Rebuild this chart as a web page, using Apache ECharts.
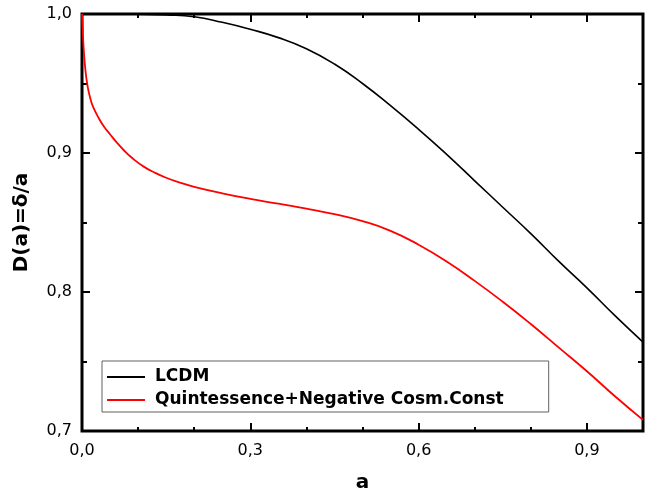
<!DOCTYPE html>
<html>
<head>
<meta charset="utf-8">
<script src="https://cdn.jsdelivr.net/npm/echarts@6/dist/echarts.min.js"></script>
<style>html,body{margin:0;padding:0;background:#fff}#c{width:651px;height:491px}</style>
</head>
<body>
<div id="c"></div>
<script>
// Data
const lcdmA = [0, 0.05, 0.1, 0.15, 0.2, 0.25, 0.3, 0.35, 0.4, 0.45, 0.5, 0.55, 0.6, 0.65, 0.7, 0.75, 0.8, 0.85, 0.9, 0.95, 1.0];
const lcdmD = [1.0, 1.0, 0.9998, 0.9993, 0.998, 0.994, 0.989, 0.983, 0.975, 0.964, 0.950, 0.934, 0.917, 0.899, 0.880, 0.861, 0.842, 0.822, 0.803, 0.783, 0.764];
const quintA = [0, 0.001, 0.003, 0.006, 0.01, 0.015, 0.02, 0.03, 0.04, 0.05, 0.06, 0.075, 0.09, 0.11, 0.13, 0.15, 0.175, 0.2, 0.25, 0.3, 0.35, 0.4, 0.45, 0.5, 0.55, 0.6, 0.65, 0.7, 0.75, 0.8, 0.85, 0.9, 0.95, 1.0];
const quintD = [1.0, 0.99, 0.975, 0.96, 0.948, 0.939, 0.933, 0.925, 0.9185, 0.9135, 0.9085, 0.9018, 0.8962, 0.8902, 0.8858, 0.8822, 0.8786, 0.8757, 0.871, 0.867, 0.8635, 0.860, 0.856, 0.851, 0.844, 0.834, 0.822, 0.808, 0.793, 0.777, 0.760, 0.743, 0.725, 0.708];
const seriesNames = ['LCDM', 'Quintessence+Negative Cosm.Const'];
const xTickLabels = ['0,0', '0,3', '0,6', '0,9'];
const yTickLabels = ['0,7', '0,8', '0,9', '1,0'];
const xTitle = 'a';
const yTitle = 'D(a)=\u03b4/a';

const FONT = 'DejaVu Sans';
function fmt(labels, values) {
  return function (v) {
    for (let i = 0; i < values.length; i++) if (Math.abs(v - values[i]) < 1e-6) return labels[i];
    return '';
  };
}
const xTickVals = [0, 0.3, 0.6, 0.9];
const yTickVals = [0.7, 0.8, 0.9, 1.0];

function axis(extra, length, showLabel, labels, vals, margin) {
  return Object.assign({
    type: 'value',
    axisLine: { show: false, onZero: false },
    axisTick: { show: true, inside: true, length: length, lineStyle: { color: '#000', width: 2 } },
    axisLabel: showLabel ? { show: true, color: '#000', fontSize: 16, fontFamily: FONT, margin: margin, formatter: fmt(labels, vals) } : { show: false },
    splitLine: { show: false }
  }, extra);
}

const chart = echarts.init(document.getElementById('c'), null, { renderer: 'canvas' });
chart.setOption({
  backgroundColor: '#fff',
  animation: false,
  grid: { left: 82, top: 14, right: 8, bottom: 60, containLabel: false, outerBoundsMode: 'none',
    show: true, borderColor: '#000', borderWidth: 3, backgroundColor: 'transparent' },
  legend: {
    orient: 'vertical', left: 102, top: 361,
    data: seriesNames,
    icon: 'rect',
    itemWidth: 38, itemHeight: 2, itemGap: 3,
    padding: [6, 45, 2, 5],
    borderColor: '#606060', borderWidth: 1, borderRadius: 0,
    textStyle: { fontFamily: FONT, fontSize: 17, fontWeight: 'bold', color: '#000', lineHeight: 20, padding: [0, 0, 0, 5] }
  },
  xAxis: [
    axis({ min: 0, max: 1, interval: 0.3, position: 'bottom', name: xTitle, nameLocation: 'middle', nameGap: 42,
      nameTextStyle: { fontFamily: FONT, fontSize: 20, fontWeight: 'bold', color: '#000' } }, 8, true, xTickLabels, xTickVals, 12),
    axis({ min: 0, max: 1, interval: 0.1, position: 'bottom' }, 4, false),
    axis({ min: 0, max: 1, interval: 0.3, position: 'top' }, 8, false),
    axis({ min: 0, max: 1, interval: 0.1, position: 'top' }, 4, false)
  ],
  yAxis: [
    axis({ min: 0.7, max: 1.0, interval: 0.1, position: 'left', name: yTitle, nameLocation: 'middle', nameGap: 50,
      nameTextStyle: { fontFamily: FONT, fontSize: 20, fontWeight: 'bold', color: '#000' } }, 8, true, yTickLabels, yTickVals, 10),
    axis({ min: 0.7, max: 1.0, interval: 0.05, position: 'left' }, 5, false),
    axis({ min: 0.7, max: 1.0, interval: 0.1, position: 'right' }, 8, false),
    axis({ min: 0.7, max: 1.0, interval: 0.05, position: 'right' }, 5, false)
  ],
  series: [
    { name: seriesNames[0], type: 'line', xAxisIndex: 0, yAxisIndex: 0, symbol: 'none', smooth: 0.5,
      lineStyle: { color: '#000', width: 1.6 }, itemStyle: { color: '#000' },
      data: lcdmA.map((a, i) => [a, lcdmD[i]]) },
    { name: seriesNames[1], type: 'line', xAxisIndex: 0, yAxisIndex: 0, symbol: 'none', smooth: 0.5,
      lineStyle: { color: '#ff0000', width: 1.8 }, itemStyle: { color: '#ff0000' },
      data: quintA.map((a, i) => [a, quintD[i]]) }
  ]
});
</script>
</body>
</html>
